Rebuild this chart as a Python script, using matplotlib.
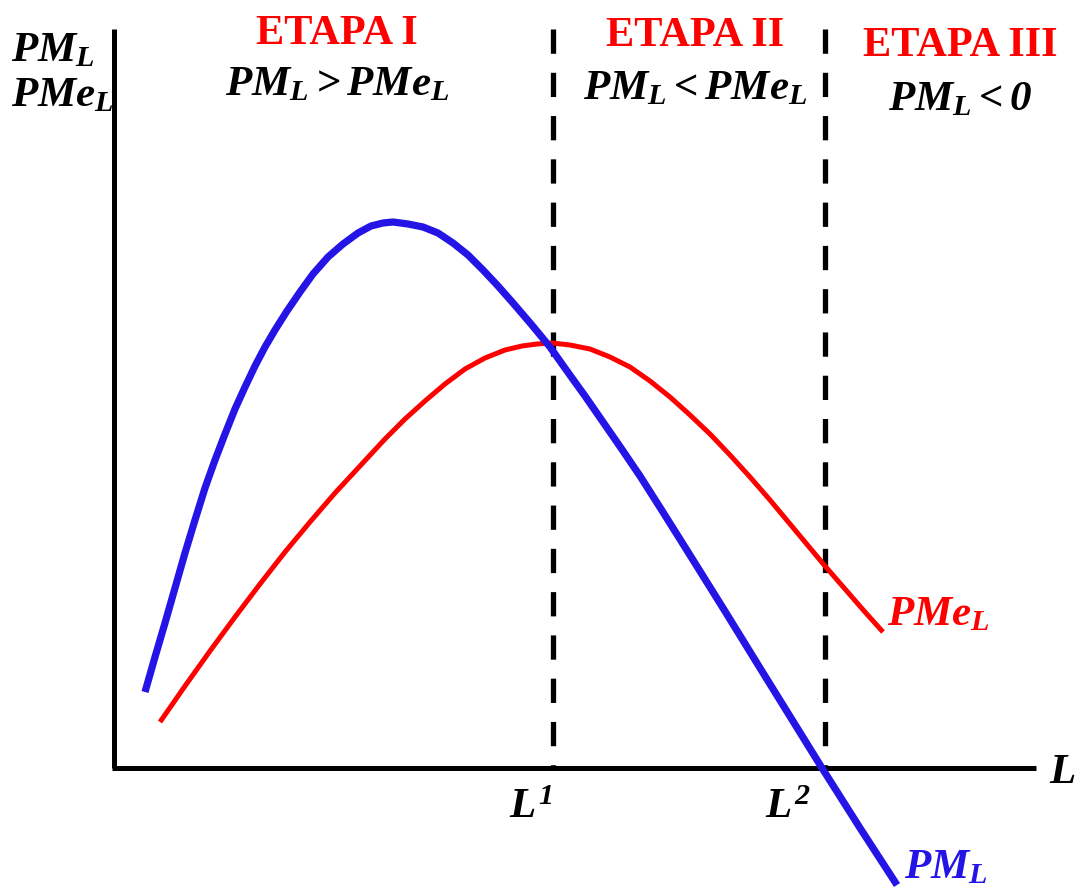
import matplotlib.pyplot as plt

plt.rcParams['font.family'] = 'Liberation Serif'
plt.rcParams['mathtext.fontset'] = 'custom'
plt.rcParams['mathtext.rm'] = 'Liberation Serif:bold:italic'
plt.rcParams['mathtext.it'] = 'Liberation Serif:bold:italic'
plt.rcParams['mathtext.bf'] = 'Liberation Serif:bold:italic'

# producto marginal del trabajo (PM_L)
pm_x = [3.1, 4.1, 5.1, 6.1, 7.1, 8.1, 9.1, 10.1, 11.1, 12.1, 13.1, 14.1, 15.1, 16.1,
        17.3, 18.6, 19.9, 21.4, 22.9, 24.4, 25.7, 26.9, 27.9, 29.4, 30.9, 32.4, 33.9,
        35.4, 36.9, 38.4, 39.9, 41.7, 43.6, 45.3, 47.1, 48.9, 50.7, 52.6, 54.7, 56.9,
        58.9, 60.9, 64.6, 67.7, 70.8, 74.6, 78.3]
pm_y = [7.6, 11.1, 14.5, 18.0, 21.5, 24.8, 28.0, 30.8, 33.4, 35.9, 38.1, 40.2, 42.1, 43.8,
        45.7, 47.6, 49.4, 51.1, 52.4, 53.5, 54.2, 54.5, 54.6, 54.4, 54.1, 53.5, 52.5,
        51.3, 49.8, 48.2, 46.5, 44.4, 42.1, 39.7, 37.2, 34.6, 32.0, 29.2, 25.9, 22.4,
        19.2, 16.0, 10.0, 5.0, 0.0, -6.0, -11.7]

# producto medio del trabajo (PMe_L)
pme_x = [4.6, 7.1, 9.6, 12.1, 14.6, 17.1, 19.6, 22.1, 24.6, 27.1, 29.1, 31.1, 33.1,
         35.1, 37.1, 39.1, 40.8, 42.3, 43.8, 45.6, 47.6, 49.6, 51.6, 53.6, 55.6, 57.6,
         59.6, 61.6, 63.6, 65.6, 67.6, 69.6, 71.1, 73.1, 75.1, 76.9]
pme_y = [4.6, 8.2, 11.7, 15.1, 18.4, 21.6, 24.6, 27.5, 30.2, 32.9, 34.9, 36.7, 38.4,
         39.9, 41.0, 41.8, 42.2, 42.4, 42.5, 42.3, 41.9, 41.1, 40.1, 38.7, 37.1, 35.3,
         33.4, 31.3, 29.1, 26.8, 24.4, 22.0, 20.2, 17.9, 15.6, 13.6]

# limites de las etapas
etapa_x = [43.9, 71.1]
etapa_tick = [r'$L^1$', r'$L^2$']
etapa_nombre = ['ETAPA I', 'ETAPA II', 'ETAPA III']
etapa_cond = [r'$PM_L > PMe_L$', r'$PM_L < PMe_L$', r'$PM_L < 0$']

fig = plt.figure(figsize=(10.77, 8.9), dpi=100)
ax = fig.add_axes([0, 0, 1, 1])
ax.set_xlim(-11.4, 96.3)
ax.set_ylim(-12.2, 76.8)
ax.axis('off')

# ejes
ax.plot([0, 0], [0, 73.9], color='black', lw=3.6, solid_capstyle='butt')
ax.plot([-0.25, 92.2], [0, 0], color='black', lw=3.6, solid_capstyle='butt')

for x in etapa_x:
    ax.plot([x, x], [73.9, 0], color='black', lw=3.8,
            linestyle=(0, (4.6, 3.6)), dash_capstyle='butt')

ax.plot(pme_x, pme_y, color='#ff0000', lw=3.6, solid_capstyle='butt',
        solid_joinstyle='round')
ax.plot(pm_x, pm_y, color='#2414e6', lw=5.2, solid_capstyle='butt',
        solid_joinstyle='round')

# textos de las etapas
nombre_pos = [(22.3, 72.4), (58.1, 72.2), (84.6, 71.2)]
cond_pos = [(22.3, 67.3), (58.1, 66.9), (84.6, 65.8)]
for (cx, cy), nombre in zip(nombre_pos, etapa_nombre):
    ax.text(cx, cy, nombre, color='#ff0000', fontsize=30.5, fontweight='bold',
            ha='center', va='baseline')
for (cx, cy), cond in zip(cond_pos, etapa_cond):
    ax.text(cx, cy, cond, color='black', fontsize=31, ha='center', va='baseline')

ax.text(-10.3, 70.7, r'$PM_L$', fontsize=31, ha='left', va='baseline')
ax.text(-10.3, 66.2, r'$PMe_L$', fontsize=31, ha='left', va='baseline')

for x, dx, t in zip(etapa_x, [-2.2, -3.7], etapa_tick):
    ax.text(x + dx, -5.0, t, fontsize=31, ha='center', va='baseline')

ax.text(94.8, -1.5, r'$L$', fontsize=31, ha='center', va='baseline')
ax.text(77.3, 14.3, r'$PMe_L$', color='#ff0000', fontsize=31, ha='left', va='baseline')
ax.text(79.0, -11.0, r'$PM_L$', color='#2414e6', fontsize=31, ha='left', va='baseline')

fig.savefig('out.png', dpi=100)
